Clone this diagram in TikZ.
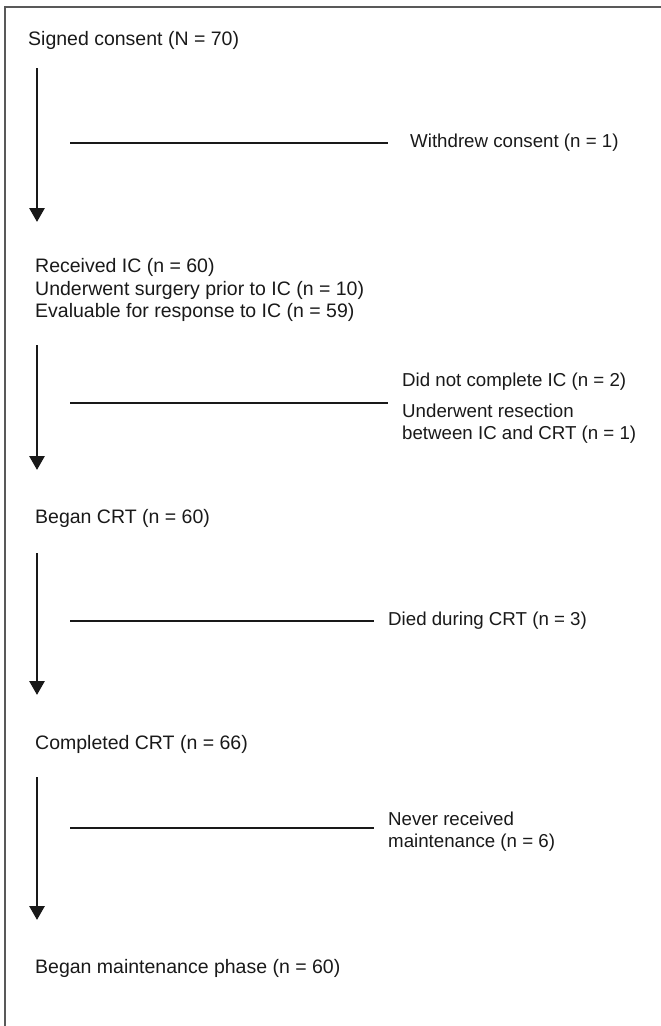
\documentclass[tikz,border=0pt]{standalone}
\usepackage{fontspec}
\setmainfont{Liberation Sans}
\usetikzlibrary{arrows.meta}
\tikzset{
  lbl/.style={anchor=west, inner sep=0pt, align=left, font=\fontsize{19.5}{22.5}\selectfont, text=black!90},
  side/.style={lbl, font=\fontsize{18.7}{22}\selectfont},
  flow/.style={line width=2.9pt, draw=black!90, -{Triangle[width=15pt,length=14pt]}},
  exclude/.style={line width=2.9pt, draw=black!90},
  frame/.style={line width=1.6pt, draw=black!65}
}
\begin{document}
\begin{tikzpicture}[x=1pt,y=-1pt]
\useasboundingbox (0,0) rectangle (661,1026);
\draw[frame] (5,1026) -- (5,7) -- (661,7);
% stage nodes
\node[lbl] (sc) at (28,40) {Signed consent (N = 70)};
\node[lbl] (ic) at (35,290) {Received IC (n = 60)\\Underwent surgery prior to IC (n = 10)\\Evaluable for response to IC (n = 59)};
\node[lbl] (crt) at (35,518) {Began CRT (n = 60)};
\node[lbl] (ccrt) at (35,744) {Completed CRT (n = 66)};
\node[lbl] (mp) at (35,968) {Began maintenance phase (n = 60)};
% exclusion nodes
\node[side] (wd) at (410,143) {Withdrew consent (n = 1)};
\node[side] (dnc) at (402,382) {Did not complete IC (n = 2)};
\node[side] (ur) at (402,424) {Underwent resection\\between IC and CRT (n = 1)};
\node[side] (died) at (388,621) {Died during CRT (n = 3)};
\node[side] (nrm) at (388,832) {Never received\\maintenance (n = 6)};
% coordinates
\coordinate (a1s) at (37,68);  \coordinate (a1e) at (37,222);
\coordinate (a2s) at (37,345); \coordinate (a2e) at (37,470);
\coordinate (a3s) at (37,553); \coordinate (a3e) at (37,695);
\coordinate (a4s) at (37,777); \coordinate (a4e) at (37,920);
\coordinate (h1) at (70,143); \coordinate (h1e) at (388,143);
\coordinate (h2) at (70,403); \coordinate (h2e) at (388,403);
\coordinate (h3) at (70,621); \coordinate (h3e) at (374,621);
\coordinate (h4) at (70,828); \coordinate (h4e) at (374,828);
% flow
\draw[flow] (a1s) -- (a1e);
\draw[flow] (a2s) -- (a2e);
\draw[flow] (a3s) -- (a3e);
\draw[flow] (a4s) -- (a4e);
\draw[exclude] (h1) -- (h1e);
\draw[exclude] (h2) -- (h2e);
\draw[exclude] (h3) -- (h3e);
\draw[exclude] (h4) -- (h4e);
\end{tikzpicture}
\end{document}
